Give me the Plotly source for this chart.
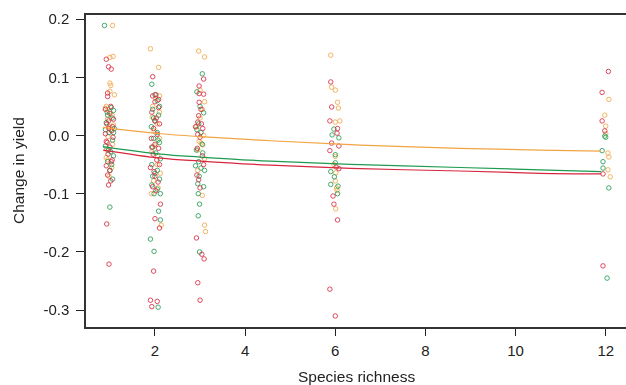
import plotly.graph_objects as go

# ---- data ----
green_x = [0.88, 1.03, 1.08, 0.95, 1.05, 0.92, 1.10, 0.98, 1.06, 0.90, 1.02, 1.08, 0.95, 1.00, 1.06, 1.00,
           0.94, 1.08, 0.97, 1.04, 0.90,
           1.93, 2.05, 2.10, 1.95, 2.08, 2.00, 1.92, 2.05, 1.97, 2.10, 1.95, 2.02, 2.12, 1.93, 2.05, 2.00, 2.10,
           1.93, 2.05, 1.98, 2.08, 2.12, 1.90, 1.98, 2.07,
           2.00, 1.97, 2.07, 1.95, 2.12,
           3.05, 2.93, 3.08, 2.97, 3.02, 2.92, 3.06, 2.97, 2.90, 3.02, 3.10, 2.95, 3.08, 2.96, 2.99, 2.96, 2.99,
           3.00, 2.93, 3.05, 2.98,
           5.97, 5.93, 6.08, 6.00, 6.00, 5.90, 5.98, 5.90, 6.06, 6.05,
           11.98, 12.00, 11.92, 11.94, 11.94, 12.07, 12.03]
green_y = [0.189, 0.048, 0.043, 0.035, 0.030, 0.022, 0.012, 0.005, -0.008, -0.018, -0.028, -0.035, -0.045, -0.060, -0.075, -0.123,
           0.040, 0.005, -0.025, -0.050, 0.010,
           0.088, 0.060, 0.050, 0.045, 0.035, 0.025, 0.015, 0.005, -0.005, -0.012, -0.020, -0.030, -0.040, -0.050, -0.060, -0.065, -0.075,
           -0.085, -0.092, -0.100, -0.130, -0.145, -0.178, -0.199, -0.295,
           0.070, 0.030, -0.008, -0.070, -0.100,
           0.106, 0.075, 0.039, 0.020, 0.005, -0.025, -0.030, -0.045, -0.052, -0.056, -0.060, -0.083, -0.088, -0.100, -0.118, -0.138, -0.200,
           0.050, 0.010, -0.015, -0.070,
           0.011, 0.001, -0.004, -0.047, -0.033, -0.062, -0.071, -0.084, -0.087, -0.100,
           -0.001, -0.003, -0.026, -0.045, -0.056, -0.090, -0.245]

red_x = [0.92, 0.97, 1.03, 0.95, 0.95, 0.90, 1.00, 1.08, 0.93, 0.98, 1.04, 0.90, 1.07, 0.94, 1.00, 0.96, 1.05, 0.92,
         1.00, 0.95, 1.02, 0.97, 0.93, 0.98,
         1.02, 0.97, 1.06, 0.92, 1.03,
         1.95, 1.95, 2.02, 2.00, 2.08, 1.93, 2.03, 2.10, 1.97, 2.05, 1.92, 2.00, 2.08, 1.96, 2.04, 1.90, 2.00, 2.07,
         1.95, 2.02, 2.12, 2.00, 2.10, 1.97, 1.90, 2.05, 1.93,
         2.08, 2.00, 1.93, 2.10, 1.98,
         3.08, 2.98, 2.98, 3.08, 2.98, 2.97, 2.95, 3.03, 2.90, 3.06, 3.00, 2.94, 3.05, 2.93, 2.97, 2.92, 3.04, 3.09, 2.95, 3.00,
         3.02, 2.95, 3.08, 3.00,
         5.90, 5.92, 5.88, 6.05, 6.04, 5.92, 6.08, 5.88, 6.02, 6.08, 5.95, 5.97, 6.05, 5.88, 6.00,
         12.06, 11.92, 11.92, 11.98, 11.94, 11.94]
red_y = [0.131, 0.118, 0.114, 0.073, 0.067, 0.045, 0.038, 0.028, 0.020, 0.012, 0.008, 0.003, -0.003, -0.012, -0.020, -0.032, -0.042, -0.052,
         -0.060, -0.068, -0.078, -0.085, -0.152, -0.221,
         0.050, 0.025, 0.015, -0.010, -0.045,
         0.101, 0.068, 0.070, 0.058, 0.048, 0.040, 0.030, 0.020, 0.012, 0.002, -0.005, -0.015, -0.022, -0.032, -0.042, -0.055, -0.070, -0.080,
         -0.088, -0.095, -0.118, -0.143, -0.159, -0.233, -0.283, -0.285, -0.294,
         0.062, 0.025, -0.020, -0.050, -0.062,
         0.097, 0.085, 0.072, 0.071, 0.057, 0.034, 0.023, 0.020, 0.015, 0.012, -0.003, -0.022, -0.035, -0.068, -0.076, -0.176, -0.204, -0.212, -0.253, -0.283,
         0.045, 0.002, -0.050, -0.090,
         0.092, 0.049, 0.025, 0.012, 0.004, -0.013, -0.018, -0.026, -0.054, -0.057, -0.104, -0.118, -0.145, -0.264, -0.310,
         0.110, 0.074, 0.025, 0.008, -0.066, -0.224]

orange_x = [1.06, 1.00, 1.07, 1.00, 1.02, 1.00, 1.10, 0.92, 0.90, 1.00, 0.95, 1.08, 1.02, 0.96, 1.06, 0.92, 0.95, 1.04, 0.98,
            1.05, 0.98, 0.93,
            1.90, 2.08, 2.10, 2.02, 2.10, 1.94, 2.05, 1.98, 2.10, 2.00, 1.93, 2.05, 2.12, 1.97, 2.07, 2.14,
            1.95, 2.06, 1.92,
            2.97, 3.10, 3.00, 3.10, 3.05, 3.00, 2.98, 3.02, 3.06, 2.95, 3.10, 3.05, 3.10, 3.12,
            2.92, 3.08, 2.95,
            5.90, 5.92, 6.00, 6.05, 6.07, 6.00, 6.10, 6.00, 5.97, 6.01, 6.00, 6.03, 6.04, 6.01,
            12.07, 11.98, 12.00, 12.00, 12.05, 12.07, 12.05, 12.10]
orange_y = [0.189, 0.134, 0.136, 0.090, 0.086, 0.076, 0.070, 0.050, 0.047, 0.041, 0.028, 0.018, 0.010, -0.002, -0.015, -0.038, -0.042, -0.055, -0.070,
            0.035, 0.015, -0.025,
            0.149, 0.117, 0.068, 0.064, 0.040, 0.032, 0.020, 0.008, -0.005, -0.018, -0.028, -0.050, -0.065, -0.078, -0.090, -0.154,
            0.050, -0.035, -0.100,
            0.145, 0.135, 0.078, 0.058, 0.045, 0.030, -0.010, -0.013, -0.016, -0.025, -0.040, -0.103, -0.154, -0.165,
            0.015, 0.000, -0.060,
            0.138, 0.083, 0.078, 0.057, 0.047, 0.023, 0.025, -0.036, -0.050, -0.064, -0.078, -0.090, -0.094, -0.126,
            0.062, 0.035, 0.016, 0.003, -0.030, -0.037, -0.059, -0.071]

# fitted lines
fit_x = [0.85, 2.13, 3.0, 4.55, 6.55, 8.77, 10.54, 11.9]
fit_orange = [0.014, 0.003, -0.002, -0.009, -0.0165, -0.022, -0.025, -0.027]
fit_green = [-0.019, -0.032, -0.037, -0.044, -0.050, -0.055, -0.059, -0.062]
fit_red = [-0.025, -0.039, -0.044, -0.051, -0.057, -0.061, -0.065, -0.066]

x_ticks = [2, 4, 6, 8, 10, 12]
y_ticks = [-0.3, -0.2, -0.1, 0.0, 0.1, 0.2]
y_tick_text = ["-0.3", "-0.2", "-0.1", "0.0", "0.1", "0.2"]

GREEN = "#1f9a50"
RED = "#d6283f"
ORANGE = "#f2a444"

fig = go.Figure()


def pts(x, y, c):
    fig.add_trace(go.Scatter(x=x, y=y, mode="markers",
                             marker=dict(symbol="circle-open", size=4.5, color=c, line=dict(width=1, color=c)),
                             opacity=0.85, showlegend=False, hoverinfo="skip"))


pts(orange_x, orange_y, ORANGE)
pts(green_x, green_y, GREEN)
pts(red_x, red_y, RED)

for ys, c in [(fit_orange, ORANGE), (fit_green, GREEN), (fit_red, RED)]:
    fig.add_trace(go.Scatter(x=fit_x, y=ys, mode="lines", line=dict(color=c, width=1.2, shape="spline"),
                             showlegend=False, hoverinfo="skip"))

font = "Liberation Sans, Arial, Helvetica, sans-serif"
fig.update_layout(
    width=626, height=385,
    margin=dict(l=86, r=0, t=15, b=58, autoexpand=False),
    plot_bgcolor="white", paper_bgcolor="white",
    font=dict(family=font, color="#222", size=15),
    xaxis=dict(range=[0.47, 12.45], tickvals=x_ticks, ticks="outside", ticklen=7, tickcolor="#222",
               showline=True, linecolor="#333", linewidth=1.5, mirror=True, showgrid=False, zeroline=False,
               automargin=False, ticklabelstandoff=2, tickfont=dict(size=15)),
    yaxis=dict(range=[-0.329, 0.207], tickvals=y_ticks, ticktext=y_tick_text, ticks="outside", ticklen=8,
               tickcolor="#222", showline=True, linecolor="#333", linewidth=1.5, showgrid=False, zeroline=False,
               automargin=False, ticklabelstandoff=4, tickfont=dict(size=15)),
    annotations=[
        dict(text="Species richness", xref="paper", yref="paper", x=0.5, y=0, yshift=-49,
             xanchor="center", yanchor="middle", showarrow=False, font=dict(size=15.5)),
        dict(text="Change in yield", xref="paper", yref="paper", x=0, y=0.5, xshift=-68,
             xanchor="center", yanchor="middle", textangle=-90, showarrow=False, font=dict(size=15.5)),
    ],
)

fig.write_html("out.html", config={"displayModeBar": False},
               post_script="document.body.style.margin='0';document.body.style.overflow='hidden';")
